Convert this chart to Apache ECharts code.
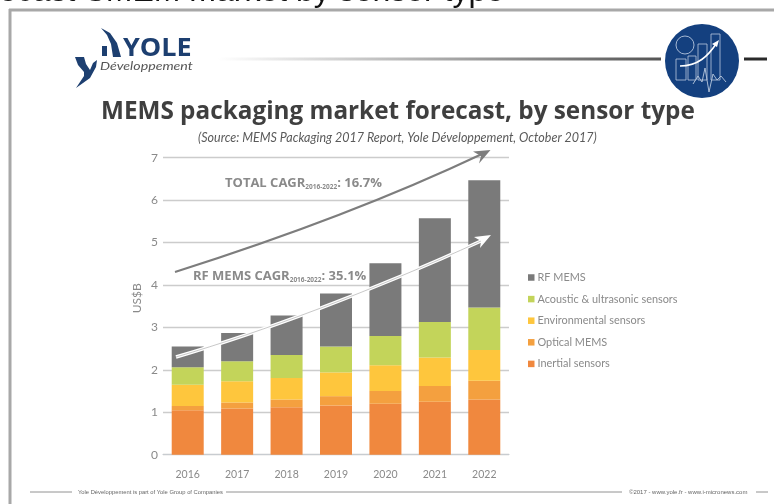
<!DOCTYPE html>
<html>
<head>
<meta charset="utf-8">
<style>html,body{margin:0;padding:0;background:#fff}#c{width:774px;height:504px}</style>
<script src="https://cdn.jsdelivr.net/npm/echarts@6/dist/echarts.min.js"></script>
</head>
<body>
<div id="c"></div>
<script>
// MEMS packaging market forecast, US$B per year, stacked by sensor type
const years = ['2016','2017','2018','2019','2020','2021','2022'];
const inertial = [1.05,1.09,1.12,1.16,1.20,1.25,1.30];
const optical = [0.10,0.14,0.18,0.22,0.30,0.37,0.44];
const environmental = [0.50,0.50,0.51,0.56,0.61,0.67,0.73];
const acoustic = [0.41,0.47,0.54,0.61,0.69,0.84,1.00];
const rfMems = [0.49,0.67,0.93,1.25,1.71,2.44,3.00];
const yTicks = ['0','1','2','3','4','5','6','7'];

const GREY = '#8a8a8a', NAVY = '#1d3f70', BLUE = '#14407f';

const stack = (name, data, color) => ({
  name, type: 'bar', stack: 'market', data, barWidth: 32,
  itemStyle: { color }, emphasis: { disabled: true }
});

const line = (x1, y1, x2, y2, stroke, lineWidth) => ({
  type: 'line', z: 50, silent: true, shape: { x1, y1, x2, y2 }, style: { stroke, lineWidth }
});
const txt = (x, y, text, style, extra) => Object.assign({
  type: 'text', z: 60, silent: true, x, y,
  style: Object.assign({ text, verticalAlign: 'middle' }, style)
}, extra);
const poly = (points, fill) => ({
  type: 'polygon', z: 52, silent: true, shape: { points }, style: { fill }
});
const curve = (s, stroke, lineWidth) => ({
  type: 'bezierCurve', z: 51, silent: true,
  shape: { x1: s[0], y1: s[1], cpx1: s[2], cpy1: s[3], cpx2: s[4], cpy2: s[5], x2: s[6], y2: s[7] },
  style: { stroke, lineWidth, fill: 'none' }
});
const outline = (x, y, width, height) => ({
  type: 'rect', z: 56, silent: true, shape: { x, y, width, height },
  style: { fill: 'none', stroke: '#b9c8de', lineWidth: 0.8 }
});

const totalArrow = [175,272, 260,245, 370,207, 482,154];
const rfArrow = [176,357, 262,332, 372,291, 481,241];

const caption = { fontFamily: 'Open Sans', fontWeight: 700, fontSize: 13, fill: GREY };
const subscript = { fontFamily: 'Open Sans', fontWeight: 700, fontSize: 6.5, fill: GREY, verticalAlign: 'bottom', lineHeight: 15 };

const decorations = [
  // Clipped headline above the slide
  txt(-49, 8.5, 'Forecast SMEM market by sensor type', {
    fontFamily: 'Liberation Sans', fontSize: 32, fill: '#111', verticalAlign: 'bottom'
  }),
  // Slide frame
  line(9, 10, 774, 10, '#a8a8a8', 3),
  line(10, 9, 10, 504, '#a8a8a8', 3),

  // Header rule with gradient
  {
    type: 'rect', z: 50, silent: true, shape: { x: 218, y: 57.5, width: 443, height: 3 },
    style: { fill: new echarts.graphic.LinearGradient(0, 0, 1, 0, [
      { offset: 0, color: '#ffffff' }, { offset: 1, color: '#555555' }
    ]) }
  },
  line(744, 59, 767, 59, '#2a2a2a', 3),

  // Company mark
  poly([[75,57],[84,57],[86,64],[90,70],[93,63],[97,60],[96,67],[90,78],[76,88],[84,76],[84,72],[78,65]], NAVY),
  poly([[102,46],[107,46],[107,56],[102,56]], NAVY),
  poly([[101,28],[110,33],[117,43],[121,57],[113,57],[111,44],[107,35]], NAVY),
  txt(123, 49, 'YOLE', { fontFamily: 'Open Sans', fontWeight: 700, fontSize: 25, fill: NAVY }, { scaleX: 1.08 }),
  txt(100, 66, 'Développement', { fontFamily: 'Lato', fontStyle: 'italic', fontSize: 11, fill: '#555' }, { scaleX: 1.29 }),

  // Report icon
  { type: 'circle', z: 55, silent: true, shape: { cx: 702, cy: 61, r: 37 }, style: { fill: BLUE } },
  outline(676, 59, 10, 21), outline(688, 56, 8, 24), outline(698, 44, 9, 36), outline(711, 34, 9, 46),
  { type: 'circle', z: 56, silent: true, shape: { cx: 685, cy: 45, r: 9 }, style: { fill: 'none', stroke: '#c9d6e8', lineWidth: 0.8 } },
  line(676, 45, 694, 45, '#c9d6e8', 0.8),
  line(685, 36, 685, 54, '#c9d6e8', 0.8),
  { type: 'bezierCurve', z: 57, silent: true,
    shape: { x1: 680, y1: 66, cpx1: 698, cpy1: 66, cpx2: 708, cpy2: 56, x2: 716, y2: 44 },
    style: { stroke: '#ffffff', lineWidth: 1.6, fill: 'none' } },
  { type: 'polygon', z: 57, silent: true, shape: { points: [[719,40],[712,44],[717,47]] }, style: { fill: '#fff' } },
  { type: 'polyline', z: 57, silent: true,
    shape: { points: [[693,84],[698,76],[702,82],[705,68],[709,92],[713,74],[717,80],[721,76],[726,82]] },
    style: { stroke: '#b9c8de', lineWidth: 0.9, fill: 'none' } },

  // Heading
  txt(101, 112, 'MEMS packaging market forecast, by sensor type', {
    fontFamily: 'Open Sans', fontWeight: 700, fontSize: 24.3, fill: '#3f3f3f'
  }),
  txt(198, 138, '(Source: MEMS Packaging 2017 Report, Yole Développement, October 2017)', {
    fontFamily: 'Lato', fontStyle: 'italic', fontSize: 12.5, fill: '#5a5a5a'
  }),

  // Growth arrows over the bars
  curve(totalArrow, '#7d7d7d', 2),
  poly([[490.5,150],[473,151.5],[481,156],[479,163.5]], '#7d7d7d'),
  curve(rfArrow, '#ffffff', 3.4),
  curve(rfArrow, '#b0b0b0', 0.7),
  poly([[491,235],[474,237],[481,241],[480,248]], '#ffffff'),

  // CAGR captions
  txt(225, 183, '{a|TOTAL CAGR}{s|2016-2022}{a|: 16.7%}', { rich: { a: caption, s: subscript } }),
  txt(193, 276, '{a|RF MEMS CAGR}{s|2016-2022}{a|: 35.1%}', { rich: { a: caption, s: subscript } }),

  // Footer
  line(30, 492, 72, 492, '#777', 0.8),
  txt(78, 492, 'Yole Développement is part of Yole Group of Companies', {
    fontFamily: 'Liberation Sans Narrow, Liberation Sans', fontSize: 5.8, fill: '#666'
  }),
  line(226, 492, 622, 492, '#777', 0.8),
  txt(629, 492, '©2017 - www.yole.fr - www.i-micronews.com', {
    fontFamily: 'Liberation Sans Narrow, Liberation Sans', fontSize: 6, fill: '#666'
  }),
  line(756, 492, 768, 492, '#777', 0.8)
];

const chart = echarts.init(document.getElementById('c'), null, { renderer: 'canvas' });
chart.setOption({
  animation: false,
  backgroundColor: 'transparent',
  grid: { left: 163, right: 265, top: 157.7, bottom: 49.3, containLabel: false },
  legend: {
    orient: 'vertical', left: 523, top: 267,
    itemWidth: 6.5, itemHeight: 6.5, itemGap: 10.6, icon: 'rect',
    selectedMode: false,
    textStyle: { fontFamily: 'Lato', fontSize: 10.9, color: GREY, padding: [0, 0, 0, -2] },
    data: ['RF MEMS', 'Acoustic & ultrasonic sensors', 'Environmental sensors', 'Optical MEMS', 'Inertial sensors']
  },
  xAxis: {
    type: 'category', data: years,
    axisLine: { lineStyle: { color: '#c8ccd0', width: 1.2 } },
    axisTick: { show: false },
    axisLabel: { fontFamily: 'Lato', fontSize: 10.5, color: GREY, margin: 14 }
  },
  yAxis: {
    type: 'value', min: 0, max: yTicks.length - 1, interval: 1,
    name: 'US$B', nameLocation: 'middle', nameRotate: 90, nameGap: 20,
    nameTextStyle: { fontFamily: 'Lato', fontSize: 12, color: GREY, padding: [0, 0, 0, 16] },
    axisLine: { show: false }, axisTick: { show: false },
    axisLabel: { fontFamily: 'Lato', fontSize: 12, color: GREY, margin: 5, formatter: v => yTicks[v] },
    splitLine: { lineStyle: { color: '#cccccc', width: 1.3 } }
  },
  series: [
    stack('Inertial sensors', inertial, '#f0883e'),
    stack('Optical MEMS', optical, '#f4a03f'),
    stack('Environmental sensors', environmental, '#fec63d'),
    stack('Acoustic & ultrasonic sensors', acoustic, '#c3d45a'),
    stack('RF MEMS', rfMems, '#7a7a7a')
  ],
  graphic: { elements: decorations }
});
</script>
</body>
</html>
